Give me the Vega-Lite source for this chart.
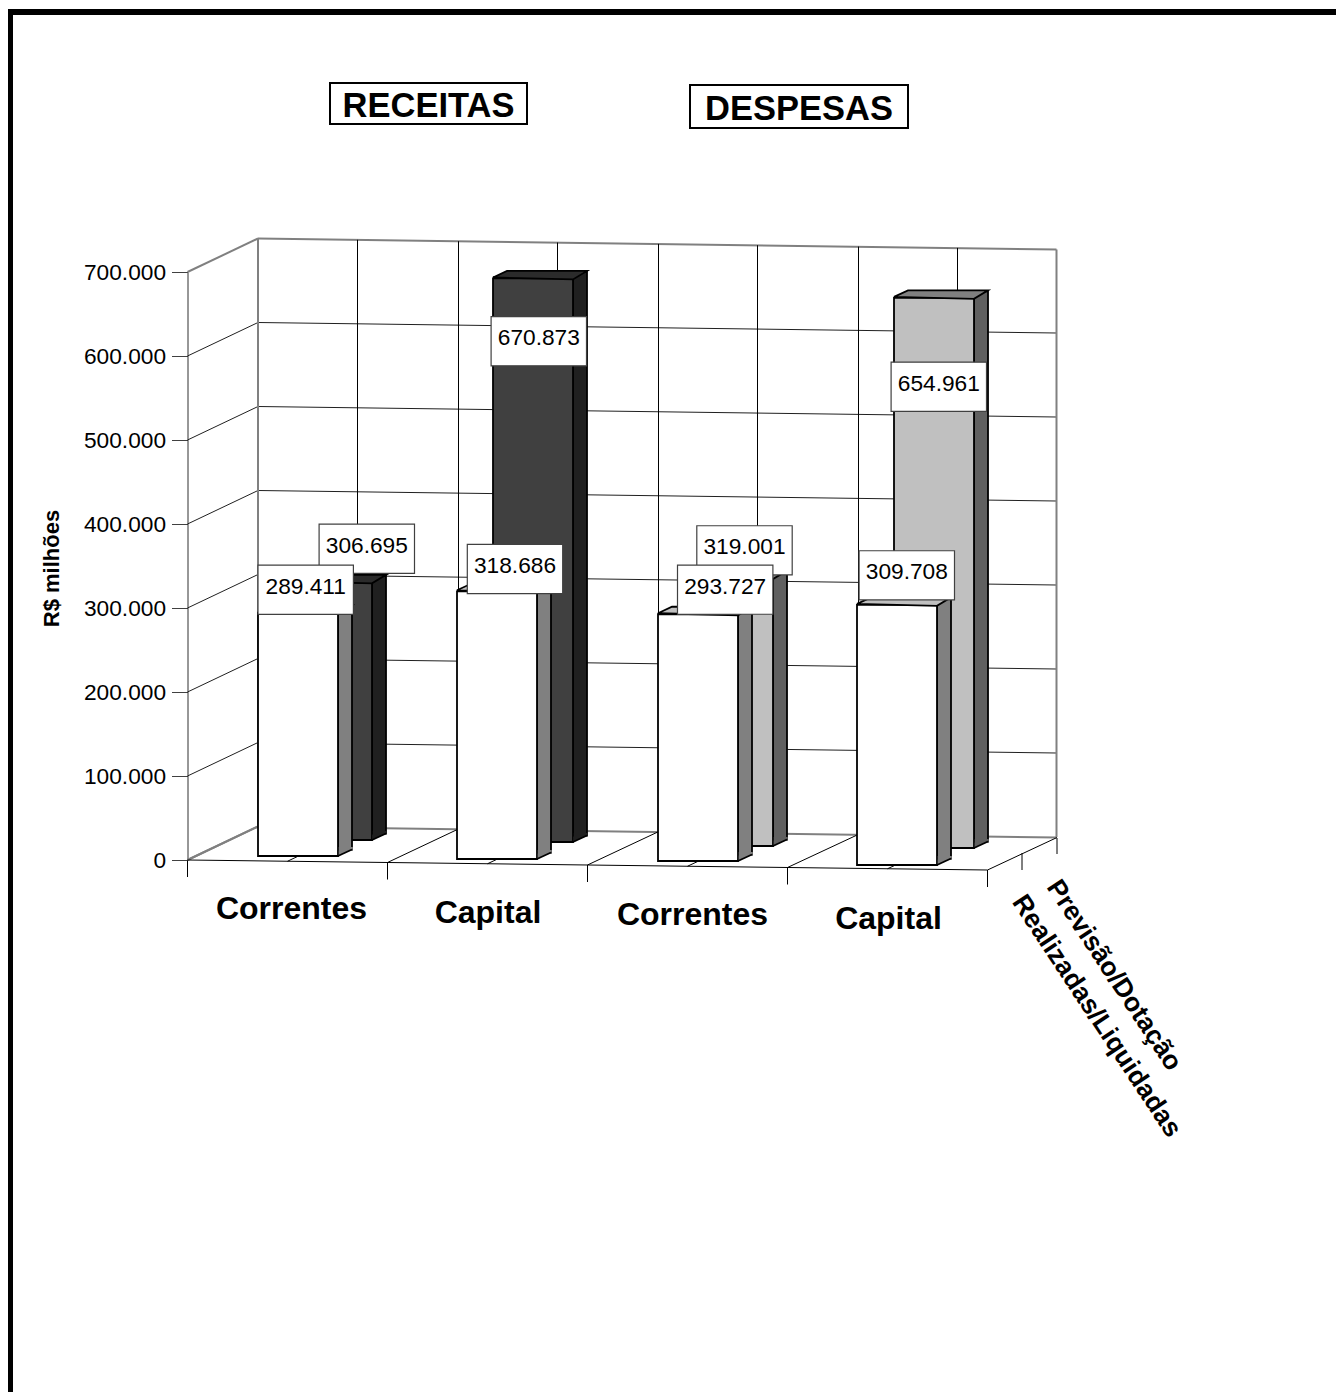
{
"$schema":"https://vega.github.io/schema/vega-lite/v6.json",
"width":800,"height":588,
"autosize":{"type":"none"},
"padding":{"left":187.5,"top":272,"right":348.5,"bottom":532},
"background":"#ffffff",
"view":{"stroke":null},
"params":[
{"name":"barDx","value":{"RCR":10.5,"RCP":44.5,"RKR":9.5,"RKP":45.5,"DCR":10.5,"DCP":45.5,"DKR":9.5,"DKP":46.5}},
{"name":"barDy","value":{"RCR":-4,"RCP":-20,"RKR":-1,"RKP":-18,"DCR":1,"DCP":-14,"DKR":5,"DKP":-12}},
{"name":"rotDx","value":{"RCR":18.2,"RCP":79.3,"RKR":27.5,"RKP":51.3,"DCR":37.7,"DCP":57,"DKR":19.3,"DKP":51.3}},
{"name":"rotDy","value":{"RCR":-27.2,"RCP":-53.7,"RKR":-23.3,"RKP":44.8,"DCR":-23.6,"DCP":-41.7,"DKR":-24.5,"DKP":76.9}},
{"name":"corFace","value":{"RCR":"#ffffff","RCP":"#404040","RKR":"#ffffff","RKP":"#404040","DCR":"#ffffff","DCP":"#c0c0c0","DKR":"#ffffff","DKP":"#c0c0c0"}},
{"name":"corLado","value":{"RCR":"#808080","RCP":"#202020","RKR":"#808080","RKP":"#202020","DCR":"#808080","DCP":"#606060","DKR":"#808080","DKP":"#606060"}},
{"name":"corTopo","value":{"RCR":"#c0c0c0","RCP":"#2b2b2b","RKR":"#c0c0c0","RKP":"#2b2b2b","DCR":"#c0c0c0","DCP":"#808080","DKR":"#c0c0c0","DKP":"#808080"}},
{"name":"eixoDx","value":{"RECEITAS Correntes":4,"RECEITAS Capital":0.5,"DESPESAS Correntes":5,"DESPESAS Capital":1}},
{"name":"eixoDy","value":{"RECEITAS Correntes":0,"RECEITAS Capital":4,"DESPESAS Correntes":6,"DESPESAS Capital":10}}
],
"datasets":{
"niveis":[{"valor":0},{"valor":100000},{"valor":200000},{"valor":300000},{"valor":400000},{"valor":500000},{"valor":600000},{"valor":700000}],
"categorias":[{"chave":"RECEITAS Correntes","ordem":0,"valor":0},{"chave":"RECEITAS Capital","ordem":1,"valor":0},{"chave":"DESPESAS Correntes","ordem":2,"valor":0},{"chave":"DESPESAS Capital","ordem":3,"valor":0}],
"series":[{"serie":"Previsão/Dotação","valor":0},{"serie":"Realizadas/Liquidadas","valor":0}],
"titulos":[{"titulo":"RECEITAS","chave":"RECEITAS Capital","valor":700000},{"titulo":"DESPESAS","chave":"DESPESAS Capital","valor":700000}]
},
"data":{"values":[
{"id":"RCP","grupo":"RECEITAS","chave":"RECEITAS Correntes","serie":"Previsão/Dotação","valor":306695,"rotulo":"306.695"},
{"id":"RKP","grupo":"RECEITAS","chave":"RECEITAS Capital","serie":"Previsão/Dotação","valor":670873,"rotulo":"670.873"},
{"id":"DCP","grupo":"DESPESAS","chave":"DESPESAS Correntes","serie":"Previsão/Dotação","valor":319001,"rotulo":"319.001"},
{"id":"DKP","grupo":"DESPESAS","chave":"DESPESAS Capital","serie":"Previsão/Dotação","valor":654961,"rotulo":"654.961"},
{"id":"RCR","grupo":"RECEITAS","chave":"RECEITAS Correntes","serie":"Realizadas/Liquidadas","valor":289411,"rotulo":"289.411"},
{"id":"RKR","grupo":"RECEITAS","chave":"RECEITAS Capital","serie":"Realizadas/Liquidadas","valor":318686,"rotulo":"318.686"},
{"id":"DCR","grupo":"DESPESAS","chave":"DESPESAS Correntes","serie":"Realizadas/Liquidadas","valor":293727,"rotulo":"293.727"},
{"id":"DKR","grupo":"DESPESAS","chave":"DESPESAS Capital","serie":"Realizadas/Liquidadas","valor":309708,"rotulo":"309.708"}
]},
"encoding":{
"x":{"field":"chave","type":"nominal","title":null,
 "scale":{"type":"band","domain":["RECEITAS Correntes","RECEITAS Capital","DESPESAS Correntes","DESPESAS Capital"],"paddingInner":0,"paddingOuter":0},
 "axis":{"title":null,"ticks":false,"domain":false,"grid":false,"labelFont":"Liberation Sans","labelFontSize":32,"labelFontWeight":"bold","labelColor":"#000000","labelAngle":0,"labelPadding":48,"labelBaseline":"middle","labelAlign":"center","labelOverlap":false,"labelBound":false,"labelFlush":false,"labelLimit":400,
  "labelExpr":"split(datum.label,' ')[1]",
  "encoding":{"labels":{"dx":{"value":{"expr":"eixoDx[datum.value]"}},"dy":{"value":{"expr":"eixoDy[datum.value]"}}}}}},
"y":{"field":"valor","type":"quantitative","title":"R$ milhões",
 "scale":{"domain":[0,700000],"nice":false,"zero":true},
 "axis":{"values":[0,100000,200000,300000,400000,500000,600000,700000],"grid":false,"tickSize":16,"tickColor":"#404040","tickWidth":1,"domainColor":"#303030","domainWidth":1,"labelFont":"Liberation Sans","labelFontSize":22.7,"labelColor":"#000000","labelPadding":6,"labelExpr":"replace(datum.label,',','.')","labelOverlap":false,"labelBound":false,"labelFlush":false,
 "titleFont":"Liberation Sans","titleFontSize":22,"titleFontWeight":"bold","titleColor":"#000000","titleX":-136.5,"titleY":296,"titleAngle":-90,"titleAlign":"center","titleBaseline":"middle"}}
},
"layer":[
{"data":{"name":"niveis"},"transform":[{"filter":"datum.valor>0&&datum.valor<700000"}],
 "mark":{"type":"rule","stroke":"#202020","strokeWidth":1,"xOffset":-29.5,"x2Offset":169,"yOffset":-33.5,"y2Offset":-23},
 "encoding":{"x":{"datum":"RECEITAS Correntes"},"x2":{"datum":"DESPESAS Capital"},"y2":{"field":"valor"}}},
{"data":{"name":"niveis"},"transform":[{"filter":"datum.valor===0||datum.valor===700000"}],
 "mark":{"type":"rule","stroke":"#808080","strokeWidth":2,"xOffset":-29.5,"x2Offset":169,"yOffset":-33.5,"y2Offset":-22.5},
 "encoding":{"x":{"datum":"RECEITAS Correntes"},"x2":{"datum":"DESPESAS Capital"},"y2":{"field":"valor"}}},
{"data":{"name":"niveis"},"transform":[{"filter":"datum.valor>0&&datum.valor<700000"}],
 "mark":{"type":"rule","stroke":"#202020","strokeWidth":1,"xOffset":-100,"x2Offset":-29.5,"yOffset":0,"y2Offset":-33.5},
 "encoding":{"x":{"datum":"RECEITAS Correntes"},"x2":{"datum":"RECEITAS Correntes"},"y2":{"field":"valor"}}},
{"data":{"name":"niveis"},"transform":[{"filter":"datum.valor===0||datum.valor===700000"}],
 "mark":{"type":"rule","stroke":"#808080","strokeWidth":2,"xOffset":-100,"x2Offset":-29.5,"yOffset":0,"y2Offset":-33.5},
 "encoding":{"x":{"datum":"RECEITAS Correntes"},"x2":{"datum":"RECEITAS Correntes"},"y2":{"field":"valor"}}},
{"data":{"name":"categorias"},"transform":[{"filter":"datum.ordem>0"}],
 "mark":{"type":"rule","stroke":"#000000","strokeWidth":1,"xOffset":-29,"yOffset":{"expr":"-33.5+2.7*datum.ordem"},"y2Offset":{"expr":"-33.5+2.7*datum.ordem"}},
 "encoding":{"y":{"datum":0},"y2":{"datum":700000}}},
{"data":{"name":"categorias"},
 "mark":{"type":"rule","stroke":"#000000","strokeWidth":1,"xOffset":70,"yOffset":{"expr":"-32.2+2.7*datum.ordem"},"y2Offset":{"expr":"-32.2+2.7*datum.ordem"}},
 "encoding":{"y":{"datum":0},"y2":{"datum":700000}}},
{"data":{"name":"categorias"},"transform":[{"filter":"datum.ordem===0"}],
 "mark":{"type":"rule","stroke":"#808080","strokeWidth":2,"xOffset":-29.5,"yOffset":-33.5,"y2Offset":-33.5},
 "encoding":{"y":{"datum":0},"y2":{"datum":700000}}},
{"data":{"name":"categorias"},"transform":[{"filter":"datum.ordem===3"}],
 "mark":{"type":"rule","stroke":"#808080","strokeWidth":2,"xOffset":169,"yOffset":-23,"y2Offset":-22.5},
 "encoding":{"y":{"datum":0},"y2":{"datum":700000}}},
{"data":{"name":"categorias"},"transform":[{"filter":"datum.ordem>0"}],
 "mark":{"type":"rule","stroke":"#000000","strokeWidth":1,"xOffset":-100,"x2Offset":-29.5,"yOffset":{"expr":"2.5*datum.ordem"},"y2Offset":{"expr":"-33.5+2.7*datum.ordem"}},
 "encoding":{"x2":{"field":"chave"},"y":{"datum":0},"y2":{"datum":0}}},
{"data":{"name":"categorias"},
 "mark":{"type":"rule","stroke":"#000000","strokeWidth":1,"xOffset":0,"x2Offset":70.5,"yOffset":{"expr":"1.25+2.5*datum.ordem"},"y2Offset":{"expr":"-32.2+2.7*datum.ordem"}},
 "encoding":{"x2":{"field":"chave"},"y":{"datum":0},"y2":{"datum":0}}},
{"data":{"name":"categorias"},
 "mark":{"type":"rule","stroke":"#000000","strokeWidth":1,"xOffset":-100,"yOffset":{"expr":"2.5*datum.ordem"},"y2Offset":{"expr":"17+2.5*datum.ordem"}},
 "encoding":{"y":{"datum":0},"y2":{"datum":0}}},
{"data":{"name":"categorias"},"transform":[{"filter":"datum.ordem===3"}],
 "mark":{"type":"rule","stroke":"#000000","strokeWidth":1,"xOffset":100,"yOffset":10,"y2Offset":27},
 "encoding":{"y":{"datum":0},"y2":{"datum":0}}},
{"data":{"name":"categorias"},"transform":[{"filter":"datum.ordem===0"}],
 "mark":{"type":"rule","stroke":"#808080","strokeWidth":2,"xOffset":-100,"x2Offset":-29.5,"yOffset":0,"y2Offset":-33.5},
 "encoding":{"x2":{"field":"chave"},"y":{"datum":0},"y2":{"datum":0}}},
{"data":{"name":"categorias"},"transform":[{"filter":"datum.ordem===0"}],
 "mark":{"type":"rule","stroke":"#000000","strokeWidth":1,"xOffset":-100,"x2Offset":700,"yOffset":0,"y2Offset":10},
 "encoding":{"x2":{"field":"chave"},"y":{"datum":0},"y2":{"datum":0}}},
{"data":{"name":"categorias"},"transform":[{"filter":"datum.ordem===3"}],
 "mark":{"type":"rule","stroke":"#000000","strokeWidth":1,"xOffset":100,"x2Offset":169.5,"yOffset":10,"y2Offset":-22.5},
 "encoding":{"x2":{"field":"chave"},"y":{"datum":0},"y2":{"datum":0}}},
{"data":{"name":"series"},
 "mark":{"type":"rule","stroke":"#000000","strokeWidth":1,"xOffset":{"expr":"datum.serie==='Previsão/Dotação'?169.5:134.5"},"yOffset":{"expr":"datum.serie==='Previsão/Dotação'?-22:-7"},"y2Offset":{"expr":"datum.serie==='Previsão/Dotação'?-6:10"}},
 "encoding":{"x":{"datum":"DESPESAS Capital"},"y":{"datum":0},"y2":{"datum":0}}},
{"data":{"name":"series"},
 "mark":{"type":"text","font":"Liberation Sans","fontWeight":"bold","fontSize":26.5,"angle":56.5,"align":"left","baseline":"alphabetic","color":"#000000","xOffset":{"expr":"datum.serie==='Previsão/Dotação'?158.5:124"},"yOffset":{"expr":"datum.serie==='Previsão/Dotação'?27:42"}},
 "encoding":{"x":{"datum":"DESPESAS Capital"},"y":{"datum":0},"text":{"field":"serie"}}},
{"transform":[{"filter":"datum.serie==='Previsão/Dotação'"}],
 "layer":[
 {"mark":{"type":"bar","width":14,"stroke":"#000000","strokeWidth":1.8,"fill":{"expr":"corLado[datum.id]"},"xOffset":{"expr":"barDx[datum.id]+47"},"yOffset":{"expr":"barDy[datum.id]-6.5"},"y2Offset":{"expr":"barDy[datum.id]-6.5"}},"encoding":{"y2":{"datum":0}}},
 {"mark":{"type":"bar","width":80,"stroke":"#000000","strokeWidth":1.8,"fill":{"expr":"corFace[datum.id]"},"xOffset":{"expr":"barDx[datum.id]"},"yOffset":{"expr":"barDy[datum.id]"},"y2Offset":{"expr":"barDy[datum.id]"}},"encoding":{"y2":{"datum":0}}},
 {"mark":{"type":"point","shape":"M0,-0.6L14,-6.5V-9H0Z","size":4,"filled":true,"opacity":1,"strokeWidth":0,"fill":{"expr":"corLado[datum.id]"},"xOffset":{"expr":"barDx[datum.id]+40.8"},"yOffset":{"expr":"barDy[datum.id]"}},"encoding":{"y":{"datum":0}}},
 {"mark":{"type":"point","shape":"M0,0L14,-6.5","size":4,"filled":false,"opacity":1,"stroke":"#000000","strokeWidth":1.8,"xOffset":{"expr":"barDx[datum.id]+40"},"yOffset":{"expr":"barDy[datum.id]"}},"encoding":{"y":{"datum":0}}},
 {"mark":{"type":"point","shape":"M0,-1L14,-7.5L94,-7.5L80,1Z","size":4,"filled":true,"opacity":1,"stroke":"#000000","strokeWidth":1.8,"fill":{"expr":"corTopo[datum.id]"},"xOffset":{"expr":"barDx[datum.id]-40"},"yOffset":{"expr":"barDy[datum.id]"}}}
 ]},
{"transform":[{"filter":"datum.serie==='Realizadas/Liquidadas'"}],
 "layer":[
 {"mark":{"type":"bar","width":14,"stroke":"#000000","strokeWidth":1.8,"fill":{"expr":"corLado[datum.id]"},"xOffset":{"expr":"barDx[datum.id]+47"},"yOffset":{"expr":"barDy[datum.id]-6.5"},"y2Offset":{"expr":"barDy[datum.id]-6.5"}},"encoding":{"y2":{"datum":0}}},
 {"mark":{"type":"bar","width":80,"stroke":"#000000","strokeWidth":1.8,"fill":{"expr":"corFace[datum.id]"},"xOffset":{"expr":"barDx[datum.id]"},"yOffset":{"expr":"barDy[datum.id]"},"y2Offset":{"expr":"barDy[datum.id]"}},"encoding":{"y2":{"datum":0}}},
 {"mark":{"type":"point","shape":"M0,-0.6L14,-6.5V-9H0Z","size":4,"filled":true,"opacity":1,"strokeWidth":0,"fill":{"expr":"corLado[datum.id]"},"xOffset":{"expr":"barDx[datum.id]+40.8"},"yOffset":{"expr":"barDy[datum.id]"}},"encoding":{"y":{"datum":0}}},
 {"mark":{"type":"point","shape":"M0,0L14,-6.5","size":4,"filled":false,"opacity":1,"stroke":"#000000","strokeWidth":1.8,"xOffset":{"expr":"barDx[datum.id]+40"},"yOffset":{"expr":"barDy[datum.id]"}},"encoding":{"y":{"datum":0}}},
 {"mark":{"type":"point","shape":"M0,-1L14,-7.5L94,-7.5L80,1Z","size":4,"filled":true,"opacity":1,"stroke":"#000000","strokeWidth":1.8,"fill":{"expr":"corTopo[datum.id]"},"xOffset":{"expr":"barDx[datum.id]-40"},"yOffset":{"expr":"barDy[datum.id]"}}}
 ]},
{"mark":{"type":"point","shape":"M-47.7,-24.6H47.7V24.6H-47.7Z","size":4,"filled":true,"opacity":1,"fill":"#ffffff","stroke":"#404040","strokeWidth":1.2,"xOffset":{"expr":"rotDx[datum.id]"},"yOffset":{"expr":"rotDy[datum.id]"}}},
{"mark":{"type":"text","font":"Liberation Sans","fontSize":22.7,"color":"#000000","align":"center","baseline":"middle","xOffset":{"expr":"rotDx[datum.id]"},"yOffset":{"expr":"rotDy[datum.id]-3"}},"encoding":{"text":{"field":"rotulo"}}},
{"data":{"name":"titulos"},
 "mark":{"type":"point","shape":{"expr":"datum.titulo==='RECEITAS'?'M-98.5,-20.5H98.5V20.5H-98.5Z':'M-109,-21.5H109V21.5H-109Z'"},"size":4,"filled":true,"opacity":1,"fill":"#ffffff","stroke":"#000000","strokeWidth":2,"xOffset":{"expr":"datum.titulo==='RECEITAS'?-59:-88.5"},"yOffset":{"expr":"datum.titulo==='RECEITAS'?-168.5:-165.5"}},
 "encoding":{"y":{"datum":700000}}},
{"data":{"name":"titulos"},
 "mark":{"type":"text","font":"Liberation Sans","fontWeight":"bold","fontSize":34.5,"color":"#000000","align":"center","baseline":"middle","xOffset":{"expr":"datum.titulo==='RECEITAS'?-59:-88.5"},"yOffset":{"expr":"datum.titulo==='RECEITAS'?-165.5:-162.5"}},
 "encoding":{"y":{"datum":700000},"text":{"field":"titulo"}}},
{"data":{"name":"categorias"},"transform":[{"filter":"datum.ordem===0"}],
 "mark":{"type":"rule","stroke":"#000000","strokeWidth":5,"xOffset":-277,"yOffset":-263,"y2Offset":532},
 "encoding":{"y":{"datum":700000},"y2":{"datum":0}}},
{"data":{"name":"categorias"},"transform":[{"filter":"datum.ordem===0"}],
 "mark":{"type":"rule","stroke":"#000000","strokeWidth":6,"xOffset":-279.5,"x2Offset":1048.5,"yOffset":-260,"y2Offset":-260},
 "encoding":{"x2":{"field":"chave"},"y":{"datum":700000},"y2":{"datum":700000}}}
]
}
